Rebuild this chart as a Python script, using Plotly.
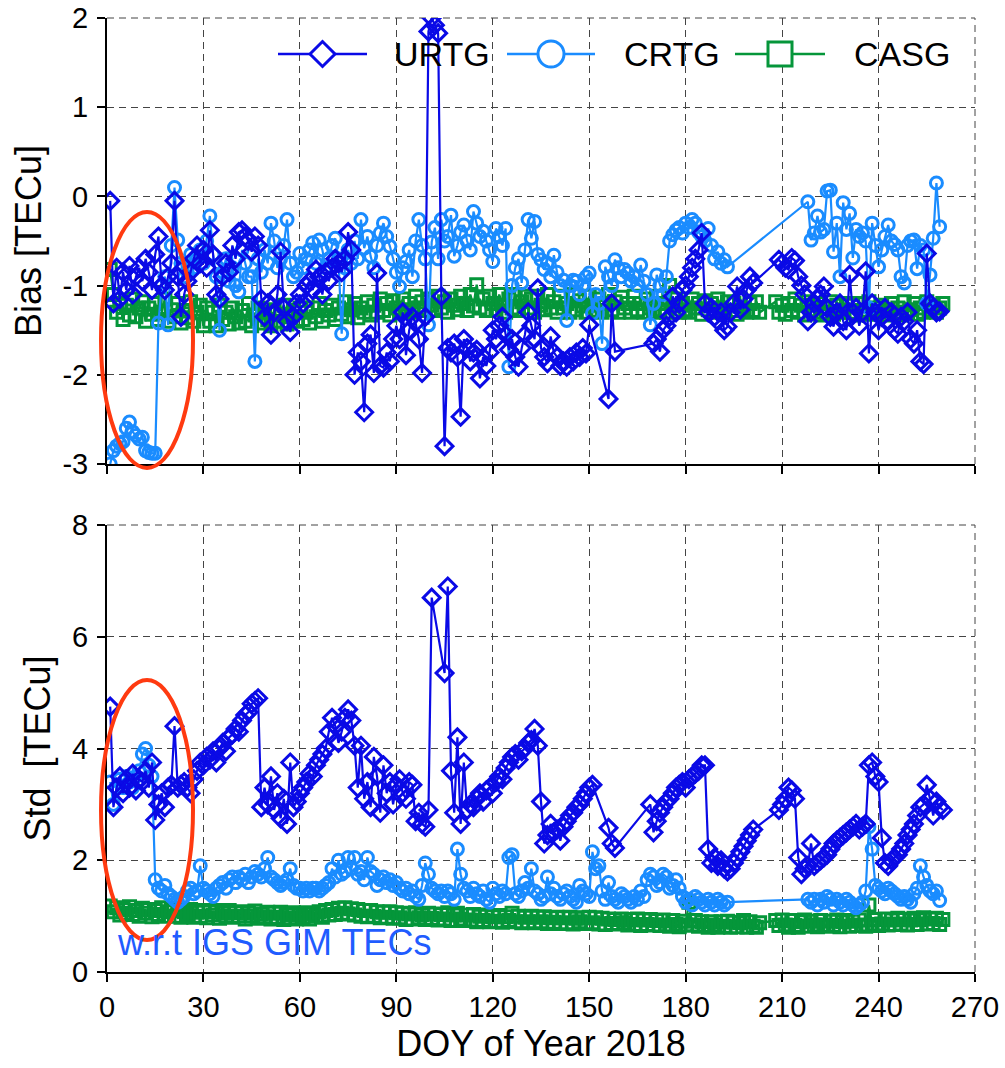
import plotly.graph_objects as go

# ---------------- data (DOY 1..260, None = no solution that day) ----------------
DAYS = list(range(1, 261))

URTG_BIAS = [
    -0.05, -1.2, -0.8, -1.15, -0.85, -1.05, -0.78, -1.1, -0.9, -0.8,
    -0.95, -0.7, -0.85, -1.05, -0.65, -0.45, -1.0, -1.05, -0.9, -0.75,
    -0.05, -0.9, -1.35, -1.1, -0.95, -0.85, -0.7, -0.55, -0.75, -0.6,
    -0.8, -0.38, -0.65, -1.1, -1.15, -0.9, -0.75, -0.85, -0.55, -0.7,
    -0.4, -0.38, -0.45, -0.5, -0.62, -0.45, -0.55, -1.15, -1.35, -1.2,
    -1.55, -1.3, -1.1, -0.62, -1.25, -1.4, -1.52, -1.35, -1.2, -1.1,
    -1.2, -1.0, -0.95, -1.05, -0.82, -0.9, -1.1, -0.85, -0.95, -0.8,
    -0.7, -0.75, -0.85, -0.7, -0.4, -0.6, -2.0, -1.75, -1.85, -2.42,
    -1.65, -1.55, -1.98, -0.86, -1.9, -1.92, -1.75, -1.85, -1.6, -1.45,
    -1.6, -1.3, -1.78, -1.5, -1.35, -1.42, -1.6, -1.98, -1.35, 1.85,
    2.0, 1.92, 1.83, -1.12, -2.8, -1.7, -1.75, -1.65, -1.8, -2.47,
    -1.6, -1.7, -1.85, -1.75, -1.72, -2.04, -1.8, -1.9, -1.75, -1.5,
    -1.6, -1.45, -1.35, -1.55, -1.72, -1.6, -1.8, -1.91, -1.7, -1.55,
    -1.3, -1.45, -1.6, -1.03, -1.7, -1.8, -1.87, -1.57, -1.75, -1.8,
    -1.9, -1.85, -1.91, -1.8, -1.85, -1.75, -1.8, -1.7, -1.76, -1.44,
    None, None, None, None, None, -2.27, -1.2, -1.74, None, None,
    None, None, None, None, None, None, None, None, None, -1.65,
    -1.6, -1.74, -1.5, -1.45, -1.35, -1.12, -1.3, -1.2, -1.05, -1.0,
    -0.9, -0.8, -0.7, -0.6, -0.41, -1.2, -1.3, -1.25, -1.35, -1.4,
    -1.3, -1.5, -1.46, -1.3, -1.2, -1.01, -1.27, -1.15, -1.05, -0.9,
    -0.97, None, None, None, None, None, None, None, -0.71, -0.75,
    -0.8, -0.82, -0.69, -0.72, -0.9, -1.0, -1.1, -1.4, -1.3, -1.2,
    -1.15, -1.1, -1.01, -1.25, -1.35, -1.46, -1.3, -1.2, -1.4, -1.5,
    -0.88, -1.3, -1.25, -1.45, -1.3, -0.84, -1.76, -1.2, -1.3, -1.5,
    -1.35, -1.25, -1.4, -1.3, -1.5, -1.54, -1.35, -1.4, -1.3, -1.6,
    -1.65, -1.5, -1.85, -1.88, -0.64, -1.2, -1.25, -1.3, -1.29, None,
]

CRTG_BIAS = [
    -3.0, -2.85, -2.8, -2.77, -2.75, -2.6, -2.53, -2.64, -2.68, -2.72,
    -2.7, -2.85, -2.87, -2.88, -2.88, -1.42, -1.0, -0.9, -1.44, -0.55,
    0.1, -0.49, -0.75, -0.9, -0.85, -0.65, -0.8, -0.7, -0.6, -0.75,
    -0.5, -0.22, -0.65, -0.9, -1.5, -0.85, -0.7, -0.95, -0.8, -1.0,
    -1.07, -0.6, -0.75, -0.9, -0.9, -1.85, -0.7, -0.85, -0.6, -0.75,
    -0.3, -0.5, -0.8, -0.7, -0.55, -0.26, -0.75, -0.9, -0.85, -0.64,
    -0.8, -0.7, -0.6, -0.52, -0.75, -0.49, -0.6, -0.8, -0.7, -0.55,
    -0.47, -0.7, -1.54, -0.8, -0.6, -0.75, -0.5, -0.7, -0.26, -0.58,
    -0.45, -0.67, -0.8, -0.55, -0.41, -0.3, -0.45, -0.56, -0.7, -0.85,
    -1.01, -0.8, -0.73, -0.6, -0.9, -0.5, -0.26, -0.55, -0.7, -1.44,
    -0.51, -0.35, -0.7, -0.26, -0.5, -0.45, -0.21, -0.67, -0.55, -0.4,
    -0.32, -0.5, -0.6, -0.17, -0.3, -0.45, -0.39, -0.5, -0.6, -0.73,
    -0.36, -0.45, -0.55, -0.36, -1.91, -1.0, -0.8, -0.7, -0.97, -0.6,
    -0.26, -0.47, -0.28, -0.65, -0.71, -0.82, -0.75, -0.9, -0.66, -0.85,
    -1.0, -0.94, -1.39, -1.0, -0.94, -0.95, -1.1, -1.0, -0.9, -0.86,
    -1.31, -1.1, -1.2, -1.65, -0.79, -0.9, -1.0, -0.71, -0.8, -0.9,
    -0.82, -0.86, -0.95, -0.9, -1.0, -0.77, -0.95, -1.1, -1.44, -1.2,
    -0.88, -1.0, -1.1, -0.9, -0.5, -0.43, -0.38, -0.35, -0.41, -0.3,
    -0.35, -0.26, -0.3, -0.4, -0.45, -0.5, -0.36, -0.55, -0.7, -0.62,
    -0.75, -0.71, -0.79, None, None, None, None, None, None, None,
    None, None, None, None, None, None, None, None, None, None,
    None, None, None, None, None, None, None, -0.06, -0.49, -0.41,
    -0.22, -0.4, -0.37, 0.06, 0.07, -0.62, -0.3, -0.9, -0.07, -0.37,
    -0.19, -0.69, -0.37, -0.45, -0.41, -0.5, -1.25, -0.3, -0.55, -0.79,
    -0.6, -0.45, -0.32, -0.5, -0.54, -0.6, -0.9, -0.97, -0.55, -0.5,
    -0.49, -0.81, -0.55, -0.6, -1.2, -0.88, -0.47, 0.15, -0.34, None,
]

CASG_BIAS = [
    -0.82, -1.1, -1.3, -1.2, -1.38, -1.22, -1.33, -1.15, -1.35, -1.25,
    -1.18, -1.4, -1.25, -1.32, -1.2, -1.38, -1.3, -1.15, -1.4, -1.27,
    -1.35, -1.2, -1.42, -1.28, -1.36, -1.18, -1.4, -1.3, -1.22, -1.45,
    -1.25, -1.4, -1.3, -1.45, -1.22, -1.38, -1.3, -1.43, -1.25, -1.35,
    -1.42, -1.28, -1.4, -1.2, -1.45, -1.33, -1.25, -1.42, -1.3, -1.38,
    -1.45, -1.27, -1.4, -1.32, -1.22, -1.43, -1.35, -1.28, -1.4, -1.25,
    -1.38, -1.3, -1.42, -1.25, -1.35, -1.2, -1.4, -1.28, -1.33, -1.22,
    -1.38, -1.25, -1.32, -1.18, -1.35, -1.27, -1.2, -1.36, -1.25, -1.3,
    -1.18, -1.33, -1.22, -1.3, -1.15, -1.28, -1.2, -1.33, -1.17, -1.25,
    -1.3, -1.15, -1.27, -1.2, -1.3, -1.12, -1.25, -1.18, -1.28, -1.15,
    -1.22, -1.28, -1.12, -1.25, -1.18, -1.3, -1.15, -1.22, -1.27, -1.12,
    -1.2, -1.28, -1.1, -1.23, -0.99, -1.25, -1.15, -1.28, -1.12, -1.2,
    -1.27, -1.1, -1.22, -1.3, -1.15, -1.25, -1.1, -1.28, -1.18, -1.12,
    -1.25, -1.15, -1.3, -1.12, -1.22, -1.27, -1.1, -1.25, -1.18, -1.3,
    -1.12, -1.25, -1.2, -1.3, -1.1, -1.27, -1.17, -1.23, -1.3, -1.12,
    -1.22, -1.28, -1.15, -1.3, -1.2, -1.1, -1.27, -1.18, -1.3, -1.13,
    -1.25, -1.2, -1.3, -1.12, -1.27, -1.2, -1.3, -1.15, -1.25, -1.3,
    -1.12, -1.27, -1.2, -1.3, -1.0, -1.23, -1.15, -1.3, -1.2, -1.27,
    -1.3, -1.15, -1.25, -1.2, -1.32, -1.17, -1.27, -1.2, -1.3, -1.15,
    -1.25, -1.3, -1.18, -1.28, -1.2, -1.32, -1.15, -1.27, -1.3, -1.2,
    -1.28, -1.18, -1.3, None, None, None, None, -1.18, -1.3, -1.22,
    -1.32, -1.2, -1.28, -1.15, -1.3, -1.22, -1.33, -1.18, -1.27, -1.3,
    -1.2, -1.33, -1.25, -1.3, -1.18, -1.32, -1.22, -1.3, -1.27, -1.2,
    -1.3, -1.22, -1.33, -1.2, -1.28, -1.3, -1.18, -1.32, -1.25, -1.3,
    -1.22, -1.33, -1.27, -1.2, -1.3, -1.25, -1.33, -1.18, -1.3, -1.27,
    -1.2, -1.32, -1.25, -1.3, -1.18, -1.28, -1.22, -1.3, -1.25, -1.2,
]

URTG_STD = [
    4.75, 2.95, 3.3, 3.5, 3.2, 3.45, 3.3, 3.55, 3.25, 3.45,
    3.4, 3.6, 3.3, 3.75, 2.72, 3.0, 3.2, 2.95, 3.3, 3.35,
    4.4, 3.3, 3.35, 3.4, 3.3, 3.2, 3.45, 3.6, 3.75, 3.7,
    3.85, 3.8, 3.95, 3.75, 4.0, 4.1, 3.95, 4.2, 4.25, 4.35,
    4.3, 4.5, 4.6, 4.65, 4.8, 4.85, 4.9, 2.95, 3.3, 3.0,
    3.5, 2.9, 3.2, 2.75, 3.1, 2.65, 3.75, 2.95, 3.05, 3.2,
    3.3, 3.4, 3.55, 3.5, 3.7, 3.8, 3.9, 4.0, 4.3, 4.55,
    4.4, 4.1, 4.3, 4.55, 4.7, 4.5, 4.05, 3.3, 4.05, 3.1,
    3.4, 2.95, 3.85, 3.5, 2.85, 3.7, 3.2, 3.4, 3.0, 3.35,
    3.45, 3.2, 3.1, 3.4, 3.35, 2.7, 2.85, 2.65, 2.6, 2.9,
    6.7, None, None, None, 5.35, 6.9, 3.6, 2.85, 4.2, 2.65,
    3.75, 2.9, 3.0, 2.95, 3.1, 3.2, 3.05, 3.25, 3.3, 3.2,
    3.4, 3.5, 3.45, 3.65, 3.75, 3.85, 3.9, 3.8, 3.95, 4.0,
    4.1, 4.15, 4.35, 4.05, 3.05, 2.3, 2.45, 2.65, 2.5, 2.55,
    2.35, 2.6, 2.7, 2.8, 2.85, 2.95, 3.0, 3.1, 3.2, 3.3,
    3.35, None, None, None, None, 2.58, 2.3, 2.22, None, None,
    None, None, None, None, None, None, None, None, 3.0, 2.5,
    2.7, 2.85, 2.95, 3.05, 3.1, 3.2, 3.3, 3.35, 3.4, 3.3,
    3.45, 3.5, 3.55, 3.6, 3.7, 3.7, 2.2, 1.95, 2.05, 1.9,
    2.0, 1.85, 1.8, 1.85, 1.95, 2.05, 2.15, 2.25, 2.35, 2.45,
    2.55, None, None, None, None, None, None, None, 2.9, 3.0,
    3.1, 3.3, 3.25, 3.1, 2.05, 1.75, 1.85, 1.9, 2.3, 1.9,
    1.95, 2.0, 2.05, 2.1, 2.2, 2.3, 2.35, 2.4, 2.45, 2.5,
    2.55, 2.6, 2.65, 2.55, 2.6, 2.65, 3.7, 3.75, 3.5, 3.4,
    2.4, 1.95, 1.9, 2.0, 2.05, 2.1, 2.2, 2.3, 2.45, 2.55,
    2.65, 2.8, 2.95, 3.0, 3.35, 3.1, 2.8, 3.05, 2.95, 2.9,
]

CRTG_STD = [
    3.4, 3.0, 3.3, 3.45, 3.3, 3.5, 3.4, 3.3, 3.5, 3.6,
    3.9, 4.0, 3.7, 3.5, 1.65, 1.5, 1.45, 1.55, 1.4, 1.35,
    1.3, 1.25, 1.3, 1.35, 1.45, 1.5, 1.4, 1.45, 1.9, 1.5,
    1.45, 1.4, 1.35, 1.5, 1.55, 1.6, 1.5, 1.65, 1.7, 1.6,
    1.7, 1.65, 1.75, 1.6, 1.7, 1.8, 1.75, 1.7, 1.85, 2.05,
    1.7, 1.65, 1.6, 1.55, 1.6, 1.65, 1.85, 1.55, 1.5, 1.5,
    1.45, 1.5, 1.45, 1.5, 1.5, 1.45, 1.5, 1.55, 1.6, 1.85,
    1.7, 2.0, 1.75, 1.8, 2.05, 1.85, 2.05, 1.75, 1.8, 1.65,
    2.05, 1.8, 1.75, 1.55, 1.65, 1.7, 1.6, 1.65, 1.55, 1.6,
    1.5, 1.45, 1.5, 1.4, 1.45, 1.35, 1.3, 1.55, 1.95, 1.75,
    1.5, 1.45, 1.4, 1.45, 1.35, 1.45, 1.4, 1.3, 2.2, 1.75,
    1.5, 1.45, 1.35, 1.5, 1.4, 1.35, 1.45, 1.3, 1.25, 1.5,
    1.4, 1.35, 1.45, 1.4, 2.05, 2.1, 1.4, 1.35, 1.45, 1.6,
    1.5, 1.85, 1.45, 1.4, 1.3, 1.35, 1.7, 1.4, 1.5, 1.35,
    1.3, 1.4, 1.45, 1.35, 1.3, 1.25, 1.55, 1.45, 1.4, 1.35,
    2.15, 1.85, 1.9, 1.45, 1.3, 1.6, 1.35, 1.3, 1.25, 1.4,
    1.35, 1.3, 1.25, 1.35, 1.3, 1.45, 1.35, 1.65, 1.75, 1.7,
    1.55, 1.6, 1.75, 1.7, 1.5, 1.55, 1.65, 1.5, 1.35, 1.25,
    1.3, 1.2, 1.35, 1.3, 1.25, 1.2, 1.3, 1.25, 1.2, 1.3,
    1.25, 1.2, 1.25, None, None, None, None, None, None, None,
    None, None, None, None, None, None, None, None, None, None,
    None, None, None, None, None, None, None, 1.3, 1.25, 1.3,
    1.2, 1.3, 1.25, 1.35, 1.3, 1.2, 1.3, 1.25, 1.2, 1.3,
    1.25, 1.2, 1.15, 1.2, 1.25, 1.45, 2.6, 2.2, 1.55, 1.5,
    1.45, 1.4, 1.5, 1.45, 1.4, 1.35, 1.3, 1.35, 1.3, 1.25,
    1.4, 1.5, 1.9, 1.7, 1.55, 1.45, 1.4, 1.45, 1.28, None,
]

CASG_STD = [
    1.18, 1.08, 1.15, 1.02, 1.12, 1.05, 1.17, 1.03, 1.1, 1.0,
    1.14, 1.05, 1.12, 0.99, 1.1, 1.03, 1.15, 1.0, 1.08, 1.12,
    1.0, 1.1, 0.98, 1.08, 1.03, 1.12, 0.98, 1.07, 1.0, 1.1,
    0.97, 1.08, 1.02, 1.1, 0.96, 1.05, 1.0, 1.1, 0.98, 1.06,
    1.0, 1.08, 0.95, 1.05, 1.0, 1.09, 0.96, 1.04, 0.99, 1.07,
    0.95, 1.05, 0.98, 1.07, 0.94, 1.03, 0.97, 1.06, 0.95, 1.02,
    0.98, 1.06, 0.95, 1.04, 1.0, 1.08, 0.98, 1.1, 1.02, 1.12,
    1.03, 1.14, 1.05, 1.15, 1.04, 1.13, 1.02, 1.12, 1.0, 1.1,
    0.99, 1.1, 1.0, 1.08, 0.97, 1.07, 0.98, 1.08, 0.96, 1.06,
    0.97, 1.05, 0.94, 1.04, 0.95, 1.06, 0.97, 1.03, 0.94, 1.05,
    0.96, 1.04, 0.93, 1.03, 0.95, 1.06, 0.92, 1.02, 1.05, 0.95,
    0.92, 1.02, 0.93, 1.03, 0.9, 1.0, 0.92, 1.02, 0.9, 0.99,
    0.91, 1.01, 0.89, 0.99, 0.92, 1.05, 0.9, 1.0, 0.88, 0.98,
    0.9, 1.0, 0.88, 0.98, 0.9, 0.99, 0.87, 0.97, 0.89, 0.98,
    0.87, 0.97, 0.88, 0.98, 0.86, 0.96, 0.9, 0.97, 0.87, 0.98,
    0.88, 0.97, 0.86, 0.96, 0.85, 0.95, 0.87, 0.94, 0.86, 0.95,
    0.88, 0.84, 0.94, 0.85, 0.95, 0.83, 0.93, 0.85, 0.94, 0.84,
    0.92, 0.83, 0.93, 0.84, 0.82, 0.92, 0.85, 0.81, 0.91, 0.84,
    1.25, 0.84, 0.92, 0.82, 0.9, 0.83, 0.8, 0.9, 0.84, 0.8,
    0.9, 0.82, 0.91, 0.8, 0.89, 0.81, 0.88, 0.92, 0.8, 0.9,
    0.82, 0.8, 0.88, None, None, None, None, 0.92, 0.83, 0.93,
    0.84, 0.8, 0.92, 0.83, 0.8, 0.9, 0.93, 0.82, 0.91, 0.84,
    0.81, 0.92, 0.84, 0.82, 0.91, 0.83, 0.93, 0.81, 0.9, 0.92,
    0.82, 0.91, 0.83, 0.93, 0.84, 0.82, 1.2, 0.85, 0.94, 0.83,
    0.86, 0.95, 0.84, 0.93, 0.85, 0.96, 0.86, 0.94, 0.84, 0.93,
    0.96, 0.85, 0.94, 0.97, 0.86, 0.95, 0.87, 0.96, 0.85, 0.94,
]

X_TICKS = [0, 30, 60, 90, 120, 150, 180, 210, 240, 270]
BIAS_TICKS = [-3, -2, -1, 0, 1, 2]
BIAS_TICKTEXT = ["-3", "-2", "-1", "0", "1", "2"]
STD_TICKS = [0, 2, 4, 6, 8]
SERIES_NAMES = ["URTG", "CRTG", "CASG"]
NOTE = "w.r.t IGS GIM TECs"

# ---------------- styling ----------------
C_U = "#0a0ae6"
C_C = "#1a8cff"
C_G = "#05963a"
C_RED = "#ff3a10"
C_NOTE = "#1f5cff"
C_GRID = "#444444"
GRID_DASH = "7px,5px"
FONT = "Liberation Sans, Arial, sans-serif"

# page body margin is removed (post_script), so figure pixels == page pixels
W, H = 1005, 1068
ML, MR, MT, MB = 107, 30, 18, 96
PW = W - ML - MR
PH = H - MT - MB


def px_x(px):
    """page pixel x -> paper fraction"""
    return (px - ML) / PW


def px_y(py):
    """page pixel y -> paper fraction"""
    return (H - MB - py) / PH


fig = go.Figure()

styles = {
    "URTG": dict(color=C_U, symbol="diamond-open", size=13, lw=2.2),
    "CRTG": dict(color=C_C, symbol="circle-open", size=12, lw=2.2),
    "CASG": dict(color=C_G, symbol="square-open", size=12, lw=2.4),
}


def add(name, yvals, xa, ya):
    s = styles[name]
    fig.add_trace(go.Scatter(
        x=DAYS, y=yvals, mode="lines+markers", name=name, xaxis=xa, yaxis=ya,
        connectgaps=True, showlegend=False,
        line=dict(color=s["color"], width=s["lw"]),
        marker=dict(symbol=s["symbol"], size=s["size"], color=s["color"],
                    line=dict(color=s["color"], width=3)),
    ))


add("CASG", CASG_BIAS, "x", "y")
add("CRTG", CRTG_BIAS, "x", "y")
add("URTG", URTG_BIAS, "x", "y")
add("CASG", CASG_STD, "x2", "y2")
add("CRTG", CRTG_STD, "x2", "y2")
add("URTG", URTG_STD, "x2", "y2")

axis_common = dict(
    showline=True, linecolor="black", linewidth=2, mirror=False, automargin=False,
    ticks="outside", ticklen=8, tickwidth=2, tickcolor="black",
    showgrid=True, gridcolor=C_GRID, gridwidth=1, griddash=GRID_DASH,
    zeroline=False, ticklabeloverflow="allow",
    tickfont=dict(family=FONT, size=29, color="black"),
)

top_dom = [px_y(464), 1.0]
bot_dom = [0.0, px_y(525)]

fig.update_layout(
    width=W, height=H, margin=dict(l=ML, r=MR, t=MT, b=MB, autoexpand=False),
    paper_bgcolor="white", plot_bgcolor="white", showlegend=False,
    xaxis=dict(axis_common, domain=[0, 1], range=[0, 270], tickvals=X_TICKS,
               showticklabels=False, anchor="y"),
    yaxis=dict(axis_common, domain=top_dom, range=[-3, 2], tickvals=BIAS_TICKS,
               ticktext=BIAS_TICKTEXT, anchor="x", ticklabelstandoff=3,
               title=dict(text="Bias [TECu]", font=dict(family=FONT, size=36, color="black"),
                          standoff=10)),
    xaxis2=dict(axis_common, domain=[0, 1], range=[0, 270], tickvals=X_TICKS,
                anchor="y2",
                title=dict(text="DOY of Year 2018", font=dict(family=FONT, size=36, color="black"),
                           standoff=4)),
    yaxis2=dict(axis_common, domain=bot_dom, range=[0, 8], tickvals=STD_TICKS,
                anchor="x2", ticklabelstandoff=3,
                title=dict(text="Std\u00a0 [TECu]", font=dict(family=FONT, size=36, color="black"),
                           standoff=10)),
)

shapes = []
annotations = []

# dashed grid lines on the open (top / right) edges of each panel
for dom in (top_dom, bot_dom):
    shapes.append(dict(type="line", xref="paper", yref="paper", x0=0, x1=1, y0=dom[1], y1=dom[1],
                       line=dict(color=C_GRID, width=1, dash=GRID_DASH), layer="below"))
    shapes.append(dict(type="line", xref="paper", yref="paper", x0=1, x1=1, y0=dom[0], y1=dom[1],
                       line=dict(color=C_GRID, width=1, dash=GRID_DASH), layer="below"))

# red ellipses highlighting the first days
shapes.append(dict(type="circle", xref="paper", yref="paper",
                   x0=px_x(101), x1=px_x(193), y0=px_y(468), y1=px_y(212),
                   line=dict(color=C_RED, width=4), layer="above"))
shapes.append(dict(type="circle", xref="paper", yref="paper",
                   x0=px_x(101), x1=px_x(193), y0=px_y(940), y1=px_y(680),
                   line=dict(color=C_RED, width=4), layer="above"))

# hand-drawn legend (large symbols)
LEG_Y = 54
legend_geom = [
    ("URTG", C_U, "diamond", 278, 367, 395),
    ("CRTG", C_C, "circle", 507, 595, 625),
    ("CASG", C_G, "square", 735, 825, 855),
]
for name, col, sym, a, b, tx in legend_geom:
    shapes.append(dict(type="line", xref="paper", yref="paper",
                       x0=px_x(a), x1=px_x(b), y0=px_y(LEG_Y), y1=px_y(LEG_Y),
                       line=dict(color=col, width=2.5), layer="above"))
    cx = (a + b) / 2
    if sym == "diamond":
        r = 12.5
        path = "M {},{} L {},{} L {},{} L {},{} Z".format(
            px_x(cx - r), px_y(LEG_Y), px_x(cx), px_y(LEG_Y - r),
            px_x(cx + r), px_y(LEG_Y), px_x(cx), px_y(LEG_Y + r))
        shapes.append(dict(type="path", xref="paper", yref="paper", path=path,
                           fillcolor="white", line=dict(color=col, width=3), layer="above"))
    elif sym == "circle":
        r = 13
        shapes.append(dict(type="circle", xref="paper", yref="paper",
                           x0=px_x(cx - r), x1=px_x(cx + r), y0=px_y(LEG_Y + r), y1=px_y(LEG_Y - r),
                           fillcolor="white", line=dict(color=col, width=3), layer="above"))
    else:
        r = 12
        shapes.append(dict(type="rect", xref="paper", yref="paper",
                           x0=px_x(cx - r), x1=px_x(cx + r), y0=px_y(LEG_Y + r), y1=px_y(LEG_Y - r),
                           fillcolor="white", line=dict(color=col, width=3), layer="above"))
    annotations.append(dict(text=name, xref="paper", yref="paper", x=px_x(tx - 3), y=px_y(LEG_Y),
                            xanchor="left", yanchor="middle", showarrow=False,
                            font=dict(family=FONT, size=34, color="black")))

annotations.append(dict(text=NOTE, xref="paper", yref="paper", x=px_x(115), y=px_y(942),
                        xanchor="left", yanchor="middle", showarrow=False,
                        font=dict(family=FONT, size=36, color=C_NOTE)))

fig.update_layout(shapes=shapes, annotations=annotations)

fig.write_html("out.html", config={"displayModeBar": False},
               post_script="document.body.style.margin='0px';document.body.style.overflow='hidden';")
